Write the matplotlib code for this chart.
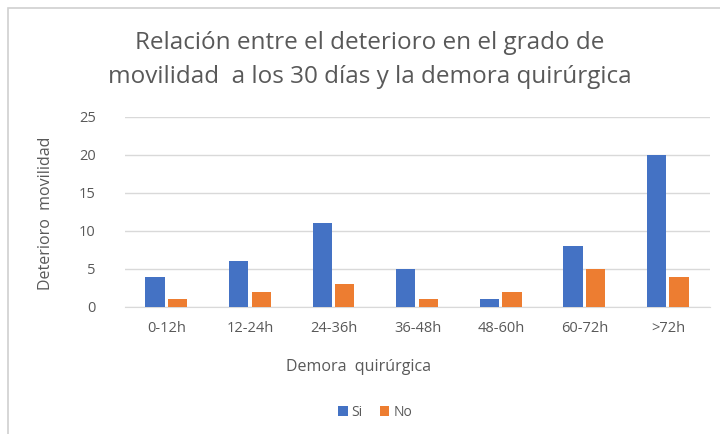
import matplotlib
matplotlib.use("Agg")
import matplotlib.pyplot as plt
from matplotlib.patches import Rectangle
import numpy as np

categories = ["0-12h", "12-24h", "24-36h", "36-48h", "48-60h", "60-72h", ">72h"]
si_values = [4, 6, 11, 5, 1, 8, 20]
no_values = [1, 2, 3, 1, 2, 5, 4]

plt.rcParams['font.family'] = ['Open Sans', 'DejaVu Sans']
text_color = "#595959"

fig = plt.figure(figsize=(7.2, 4.34), dpi=100)
fig.patches.append(Rectangle((8/720, -0.1), 1.2, 1 - 8/434 + 0.1, transform=fig.transFigure,
                             fill=False, edgecolor="#D0D0D0", linewidth=1.2))

ax = fig.add_axes([125/720, 1 - 307/434, 585/720, 190/434])
x = np.arange(len(categories))
w = 0.23
ax.bar(x - 0.14, si_values, w, color="#4472C4", label="Si", zorder=3)
ax.bar(x + 0.13, no_values, w, color="#ED7D31", label="No", zorder=3)

ax.set_xlim(-0.5, len(categories) - 0.5)
ax.set_ylim(0, 25)
ax.set_yticks([0, 5, 10, 15, 20, 25])
ax.yaxis.grid(True, color="#D9D9D9", linewidth=1, zorder=0)
ax.set_xticks(x)
ax.set_xticklabels(categories)
for s in ax.spines.values():
    s.set_visible(False)
ax.spines['bottom'].set_visible(True)
ax.spines['bottom'].set_color("#D9D9D9")
ax.tick_params(axis='both', length=0, colors=text_color, labelsize=10.5)
ax.tick_params(axis='y', pad=21)
ax.tick_params(axis='x', pad=10)

fig.text(370/720, 1 - 43/434, "Relación entre el deterioro en el grado de", ha="center", va="center",
         fontsize=17.5, color=text_color)
fig.text(370/720, 1 - 77/434, "movilidad  a los 30 días y la demora quirúrgica", ha="center", va="center",
         fontsize=17.5, color=text_color)
fig.text(46/720, 1 - 213/434, "Deterioro  movilidad", rotation=90, ha="center", va="center",
         fontsize=11.5, color=text_color)
fig.text(359/720, 1 - 367/434, "Demora  quirúrgica", ha="center", va="center",
         fontsize=11.5, color=text_color)

handles, labels = ax.get_legend_handles_labels()
fig.legend(handles, labels, loc="center", bbox_to_anchor=(375/720, 1 - 412/434), ncol=2,
           frameon=False, fontsize=10, handlelength=0.7, handleheight=0.7, handletextpad=0.3,
           columnspacing=1.2, labelcolor=text_color)

fig.savefig("out.png", dpi=100, facecolor="white")
